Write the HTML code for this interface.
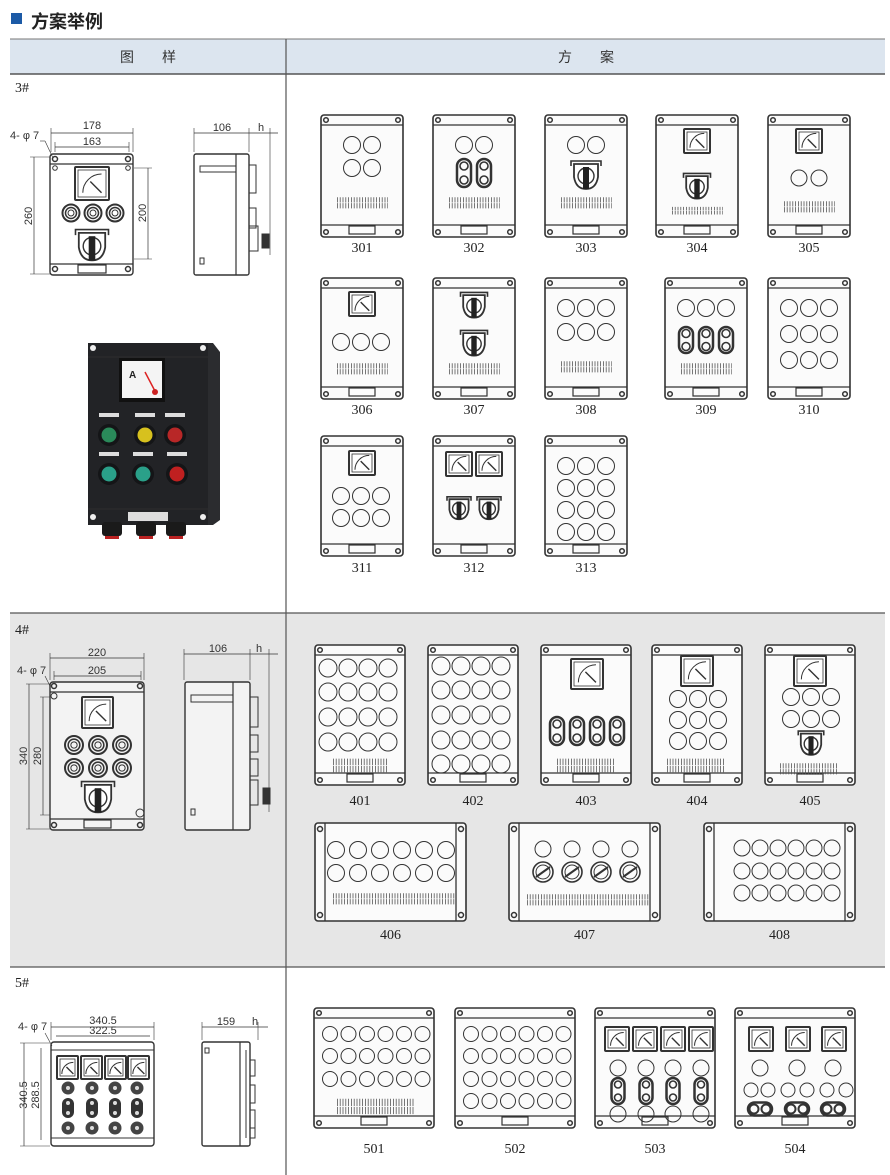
<!DOCTYPE html>
<html><head><meta charset="utf-8"><style>
html,body{margin:0;padding:0;background:#fff;width:890px;height:1175px;overflow:hidden}
svg{display:block}
text{font-family:"Liberation Sans","Noto Sans CJK SC",sans-serif}
.n{font-family:"Liberation Serif",serif;font-size:14px;fill:#222}
.d{font-size:11px;fill:#333}
</style></head><body>
<svg id="s" width="890" height="1175" xmlns="http://www.w3.org/2000/svg">
<rect x="10" y="613" width="875" height="354" fill="#e6e6e6"/>
<rect x="10" y="39" width="875" height="35" fill="#dce5ef"/>
<line x1="10" y1="39" x2="885" y2="39" stroke="#777" stroke-width="1"/>
<line x1="10" y1="74" x2="885" y2="74" stroke="#555" stroke-width="1.5"/>
<line x1="10" y1="613" x2="885" y2="613" stroke="#555" stroke-width="1.2"/>
<line x1="10" y1="967" x2="885" y2="967" stroke="#555" stroke-width="1.2"/>
<line x1="286" y1="39" x2="286" y2="1175" stroke="#555" stroke-width="1.2"/>
<rect x="11" y="13" width="11" height="11" fill="#1c5aa6"/>
<text x="31" y="28" font-size="18" font-weight="bold" fill="#222" style='font-family:"Noto Sans CJK SC",sans-serif'>方案举例</text>
<text x="148" y="62" font-size="14" fill="#333" text-anchor="middle" style='font-family:"Noto Sans CJK SC",sans-serif'>图　　样</text>
<text x="586" y="62" font-size="14" fill="#333" text-anchor="middle" style='font-family:"Noto Sans CJK SC",sans-serif'>方　　案</text>
<text x="15" y="92" class="n" font-size="13">3#</text>
<text x="15" y="634" class="n" font-size="13">4#</text>
<text x="15" y="987" class="n" font-size="13">5#</text>
<g id="g"></g>
</svg>
<script>
var o='';var K='#333';
function C(cx,cy,r,sw){o+='<circle cx="'+cx+'" cy="'+cy+'" r="'+r+'" fill="none" stroke="'+K+'" stroke-width="'+(sw||1)+'"/>';}
function L(a,b,c,d,w){o+='<line x1="'+a+'" y1="'+b+'" x2="'+c+'" y2="'+d+'" stroke="'+K+'" stroke-width="'+(w||1)+'"/>';}
function R(x,y,w,h,sw,f,rx){o+='<rect x="'+x+'" y="'+y+'" width="'+w+'" height="'+h+'" rx="'+(rx||0)+'" fill="'+(f||'none')+'" stroke="'+K+'" stroke-width="'+(sw||1)+'"/>';}
function T(x,y,t,c,a){o+='<text x="'+x+'" y="'+y+'" class="'+(c||'n')+'" text-anchor="'+(a||'middle')+'">'+t+'</text>';}
function box(x,y,w,h,lab,side){
 R(x,y,w,h,1.6,'#fbfbfb',3);
 if(side){L(x+10,y,x+10,y+h,1.3);L(x+w-10,y,x+w-10,y+h,1.3);
  C(x+5,y+6,2.5,1.5);C(x+5,y+h-6,2.5,1.5);C(x+w-5,y+6,2.5,1.5);C(x+w-5,y+h-6,2.5,1.5);}
 else{L(x,y+10,x+w,y+10,1.3);L(x,y+h-12,x+w,y+h-12,1.3);
  C(x+5,y+5,2.3,1.5);C(x+w-5,y+5,2.3,1.5);C(x+5,y+h-5,2.3,1.5);C(x+w-5,y+h-5,2.3,1.5);
  R(x+w/2-13,y+h-11,26,8,1.2);}
 if(lab)T(x+w/2,lab[1],lab[0]);
}
function meter(x,y,w,h){R(x,y,w,h,2,'#fff',1);R(x+3,y+3,w-6,h-6,0.8,'#fff');
 var cx=x+w*0.78,cy=y+h*0.78,r=w*0.55;
 o+='<path d="M'+(cx-r)+' '+(cy)+' A'+r+' '+r+' 0 0 1 '+cx+' '+(cy-r)+'" fill="none" stroke="'+K+'" stroke-width="1"/>';
 L(cx-r*0.6,cy-r*0.6,cx,cy,1.4);}
function term(x,y,w,h){o+='<line x1="'+x+'" y1="'+(y+h*0.3)+'" x2="'+(x+w)+'" y2="'+(y+h*0.3)+'" stroke="#555" stroke-width="'+(h*0.4)+'" stroke-dasharray="0.8 2"/>';
 o+='<line x1="'+x+'" y1="'+(y+h*0.75)+'" x2="'+(x+w)+'" y2="'+(y+h*0.75)+'" stroke="#555" stroke-width="'+(h*0.4)+'" stroke-dasharray="0.8 2"/>';}
function pill(cx,cy,w,h){R(cx-w/2,cy-h/2,w,h,2.5,'none',w/2);C(cx,cy-h/4,w/2-3,1.6);C(cx,cy+h/4,w/2-3,1.6);}
function hpill(cx,cy,w,h){R(cx-w/2,cy-h/2,w,h,2.5,'none',h/2);C(cx-w/4,cy,h/2-2,2);C(cx+w/4,cy,h/2-2,2);}
function sw(cx,cy,s){s=s||1;var w=30*s,h=28*s;
 o+='<path d="M'+(cx-w/2)+' '+(cy-h/2+5*s)+' L'+(cx-w/2)+' '+(cy-h/2)+' L'+(cx+w/2)+' '+(cy-h/2)+' L'+(cx+w/2)+' '+(cy-h/2+5*s)+'" fill="none" stroke="'+K+'" stroke-width="1.6"/>';
 o+='<path d="M'+(cx-w/2+3*s)+' '+(cy-h/2+3*s)+' L'+(cx+w/2-3*s)+' '+(cy-h/2+3*s)+' L'+(cx+w/2-3*s)+' '+(cy+2*s)+' Q'+(cx+w/2-5*s)+' '+(cy+h/2)+' '+cx+' '+(cy+h/2)+' Q'+(cx-w/2+5*s)+' '+(cy+h/2)+' '+(cx-w/2+3*s)+' '+(cy+2*s)+' Z" fill="#fff" stroke="'+K+'" stroke-width="1.8"/>';
 C(cx,cy+1*s,8*s,1.4);o+='<rect x="'+(cx-3*s)+'" y="'+(cy-8*s)+'" width="'+(6*s)+'" height="'+(22*s)+'" fill="#222"/>';}
function rsw(cx,cy,r){C(cx,cy,r,1.6);C(cx,cy,r-3,1);L(cx-r+3,cy+r-5,cx+r-3,cy-r+5,2);}
function btn(cx,cy,r){C(cx,cy,r,2);C(cx,cy,r*0.65,1.5);C(cx,cy,r*0.35,1);}
function grid(x0,dx,cols,ys,r){ys.forEach(function(y){for(var i=0;i<cols;i++)C(x0+i*dx,y,r);});}

var row1=115,row2=278,row3=436;
[[321,'301'],[433,'302'],[545,'303'],[656,'304'],[768,'305']].forEach(function(b){box(b[0],row1,82,122,[b[1],252]);});
grid(352,20,2,[145,168],8.5);term(337,196,51,13);
grid(464,20,2,[145],8.5);pill(464,173,14,28);pill(484,173,14,28);term(449,196,51,13);
grid(576,20,2,[145],8.5);sw(586,175,1);term(561,196,51,13);
meter(684,129,26,24);sw(697,186,0.9);term(672,206,51,9);
meter(796,129,26,24);grid(799,20,2,[178],8);term(784,200,51,13);
[[321,'306'],[433,'307'],[545,'308'],[665,'309'],[768,'310']].forEach(function(b){box(b[0],row2,82,121,[b[1],414]);});
meter(349,292,26,24);grid(341,20,3,[342],8.5);term(337,362,51,13);
sw(474,305,0.9);sw(474,343,0.9);term(449,362,51,13);
grid(566,20,3,[308,332],8.5);term(561,360,51,13);
grid(686,20,3,[308],8.5);pill(686,340,14,26);pill(706,340,14,26);pill(726,340,14,26);term(681,362,51,13);
grid(789,20,3,[308,334,360],8.5);
[[321,'311'],[433,'312'],[545,'313']].forEach(function(b){box(b[0],row3,82,120,[b[1],572]);});
meter(349,451,26,24);grid(341,20,3,[496,518],8.5);
meter(446,452,26,24);meter(476,452,26,24);sw(459,508,0.8);sw(489,508,0.8);
grid(566,20,3,[466,488,510,532],8.5);

[[315,'401'],[428,'402'],[541,'403'],[652,'404'],[765,'405']].forEach(function(b){box(b[0],645,90,140,[b[1],805]);});
grid(328,20,4,[668,692,717,742],9);term(333,757,55,16);
grid(441,20,4,[666,690,715,740,764],9);
meter(571,659,32,30);[557,577,597,617].forEach(function(x){pill(x,731,14,28);});term(557,757,58,16);
meter(681,656,32,30);grid(678,20,3,[699,720,741],8.5);term(667,757,58,16);
meter(794,656,32,30);grid(791,20,3,[697,719],8.5);sw(811,743,0.85);term(780,762,58,13);
[[315,'406'],[509,'407'],[704,'408']].forEach(function(b){box(b[0],823,151,98,[b[1],939],1);});
grid(336,22,6,[850,873],8.5);term(333,892,122,13);
grid(543,29,4,[849],8);[543,572,601,630].forEach(function(x){rsw(x,872,10);});term(527,893,122,13);
grid(742,18,6,[848,871,893],8);

[[314,'501'],[455,'502'],[595,'503'],[735,'504']].forEach(function(b){box(b[0],1008,120,120,[b[1],1153]);});
grid(330,18.5,6,[1034,1056,1079],7.5);term(337,1097,77,18);
grid(471,18.5,6,[1034,1056,1079,1101],7.5);
[605,633,661,689].forEach(function(x){meter(x,1027,24,24);});
[618,646,673,701].forEach(function(x){C(x,1068,8);pill(x,1091,13,26);C(x,1114,8);});
[749,786,822].forEach(function(x){meter(x,1027,24,24);});
[760,797,833].forEach(function(x){C(x,1068,8);hpill(x,1109,24,13);});
[751,768,788,807,827,846].forEach(function(x){C(x,1090,7);});

R(50,154,83,121,1.4,'#fff',3);L(50,164,133,164,1.2);L(50,264,133,264,1.2);
C(55,159,2.5,1.5);C(128,159,2.5,1.5);C(55,269,2.5,1.5);C(128,269,2.5,1.5);C(55,168,2.3,1);C(128,168,2.3,1);
meter(75,167,34,33);btn(71,213,8.5);btn(93,213,8.5);btn(115,213,8.5);sw(92,245,1.1);R(78,265,28,8,1.2);
L(51,133,133,133,0.7);L(51,128,51,152,0.6);L(133,128,133,152,0.6);T(92,129,'178','d');
L(55,147,129,147,0.7);L(55,142,55,152,0.6);L(129,142,129,152,0.6);T(92,145,'163','d');
T(10,139,'4- φ 7','d','start');L(40,141,45,141,0.6);L(45,141,53,158,0.6);
L(34,157,34,274,0.7);L(30,157,50,157,0.5);L(30,274,50,274,0.5);
o+='<text transform="translate(32,216) rotate(-90)" class="d" text-anchor="middle">260</text>';
L(148,168,148,259,0.7);L(134,168,152,168,0.5);L(134,259,152,259,0.5);
o+='<text transform="translate(146,213) rotate(-90)" class="d" text-anchor="middle">200</text>';
R(194,154,55,121,1.4,'#fff',2);L(236,154,236,275,1.2);R(200,166,36,6,1);R(200,258,4,6,1);
R(249,165,7,28,1);R(249,208,7,20,1);R(249,226,9,25,1);R(262,234,7,14,1,'#333');
L(194,133,249,133,0.7);L(194,128,194,152,0.6);L(249,128,249,152,0.6);T(222,131,'106','d');
L(249,133,278,133,0.7);L(270,128,270,255,0.6);T(261,131,'h','d');

o+='<path d="M88 343 L213 343 L220 352 L220 520 L213 525 L88 525 Z" fill="#2b2c2f"/>';
o+='<rect x="88" y="343" width="120" height="182" fill="#222326"/>';
L(88,357,208,357,0.8);L(88,509,208,509,0.8);
o+='<rect x="119" y="358" width="46" height="44" fill="#111"/><rect x="122" y="361" width="40" height="37" fill="#f4f4f4"/>';
o+='<text x="129" y="378" font-size="10" font-weight="bold" fill="#222">A</text><line x1="145" y1="372" x2="156" y2="393" stroke="#d22" stroke-width="1.5"/><circle cx="155" cy="392" r="3" fill="#c22"/>';
[[109,435,'#2a8a5a'],[145,435,'#d7c11e'],[175,435,'#b82727'],[109,474,'#2aa089'],[143,474,'#2aa089'],[177,474,'#c02020']].forEach(function(b){
 o+='<circle cx="'+b[0]+'" cy="'+b[1]+'" r="11" fill="#141517"/><circle cx="'+b[0]+'" cy="'+b[1]+'" r="7.5" fill="'+b[2]+'"/><rect x="'+(b[0]-10)+'" y="'+(b[1]-22)+'" width="20" height="4" fill="#ddd"/>';});
o+='<rect x="128" y="512" width="40" height="9" fill="#ddd"/>';
[112,146,176].forEach(function(x){o+='<rect x="'+(x-10)+'" y="522" width="20" height="14" rx="3" fill="#1a1a1a"/><rect x="'+(x-7)+'" y="536" width="14" height="3" fill="#b22"/>';});
o+='<circle cx="93" cy="348" r="3" fill="#eee"/><circle cx="203" cy="348" r="3" fill="#eee"/><circle cx="93" cy="517" r="3" fill="#eee"/><circle cx="203" cy="517" r="3" fill="#eee"/>';

R(50,682,94,148,1.4,'#f3f3f3',3);L(50,692,144,692,1.2);L(50,819,144,819,1.2);
C(54,686,2.5,1.5);C(140,686,2.5,1.5);C(54,825,2.5,1.5);C(140,825,2.5,1.5);C(54,696,3,1);C(140,813,4,1);
meter(82,697,31,31);btn(74,745,9);btn(98,745,9);btn(122,745,9);btn(74,768,9);btn(98,768,9);btn(122,768,9);sw(98,797,1.1);R(84,820,27,8,1.2);
L(50,658,144,658,0.7);L(50,653,50,680,0.6);L(144,653,144,680,0.6);T(97,656,'220','d');
L(54,676,141,676,0.7);L(54,671,54,680,0.6);L(141,671,141,680,0.6);T(97,674,'205','d');
T(17,674,'4- φ 7','d','start');L(45,676,50,686,0.6);
L(29,684,29,829,0.7);L(26,684,50,684,0.5);L(26,829,50,829,0.5);
o+='<text transform="translate(27,756) rotate(-90)" class="d" text-anchor="middle">340</text>';
L(43,697,43,815,0.7);L(40,697,50,697,0.5);L(40,815,50,815,0.5);
o+='<text transform="translate(41,756) rotate(-90)" class="d" text-anchor="middle">280</text>';
R(185,682,65,148,1.4,'#f3f3f3',2);L(233,682,233,830,1.2);R(191,695,42,7,1);R(191,809,4,6,1);
R(250,697,8,30,1);R(250,735,8,17,1);R(250,759,8,17,1);R(250,780,8,25,1);R(263,788,7,16,1,'#333');
L(184,654,250,654,0.7);L(184,649,184,680,0.6);L(250,649,250,680,0.6);T(218,652,'106','d');
L(250,654,278,654,0.7);L(269,649,269,812,0.6);T(259,652,'h','d');

R(51,1042,103,104,1.4,'#fff',3);L(51,1050,154,1050,1);L(51,1138,154,1138,1);
[57,81,105,128].forEach(function(x){meter(x,1056,21,23);});
[68,92,115,137].forEach(function(x){o+='<circle cx="'+x+'" cy="'+1088+'" r="6.5" fill="#444"/><rect x="'+(x-6)+'" y="1098" width="12" height="20" rx="6" fill="#333"/><circle cx="'+x+'" cy="1128" r="6.5" fill="#444"/>';
 o+='<circle cx="'+x+'" cy="1088" r="2" fill="#ddd"/><circle cx="'+x+'" cy="1103" r="2" fill="#ddd"/><circle cx="'+x+'" cy="1113" r="2" fill="#ddd"/><circle cx="'+x+'" cy="1128" r="2" fill="#ddd"/>';});
L(51,1027,154,1027,0.7);L(51,1022,51,1040,0.6);L(154,1022,154,1040,0.6);T(103,1024,'340.5','d');
L(56,1036,150,1036,0.7);T(103,1034,'322.5','d');
T(18,1030,'4- φ 7','d','start');L(45,1033,52,1046,0.6);
L(24,1043,24,1146,0.7);L(20,1043,50,1043,0.5);L(20,1146,50,1146,0.5);
o+='<text transform="translate(27,1095) rotate(-90)" class="d" text-anchor="middle">340.5</text>';
L(41,1048,41,1140,0.7);
o+='<text transform="translate(39,1095) rotate(-90)" class="d" text-anchor="middle">288.5</text>';
R(202,1042,48,104,1.4,'#fff',2);L(240,1042,240,1146,1.2);L(246,1050,246,1138,1);R(205,1048,4,5,1);
R(250,1060,5,16,1);R(250,1085,5,18,1);R(250,1110,5,18,1);R(250,1128,5,10,1);
L(202,1027,250,1027,0.7);L(202,1022,202,1040,0.6);T(226,1025,'159','d');
L(250,1027,268,1027,0.7);L(258,1022,258,1040,0.6);T(255,1025,'h','d');
document.getElementById('g').innerHTML=o;
</script>
</body></html>
